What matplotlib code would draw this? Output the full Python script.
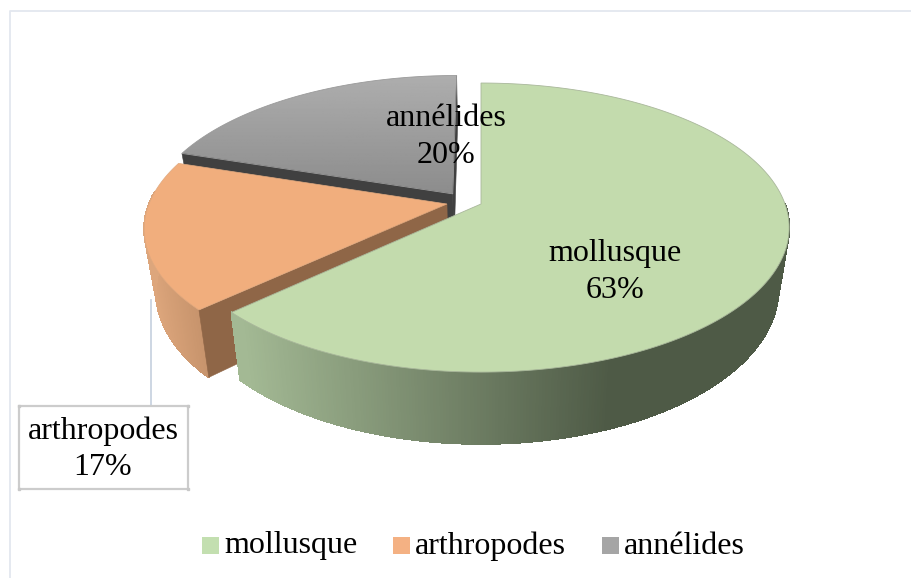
import numpy as np
import matplotlib
matplotlib.use('Agg')
import matplotlib.pyplot as plt
from matplotlib.collections import PolyCollection
from matplotlib.colors import to_rgb
from matplotlib.patches import Polygon, Rectangle

names = ['mollusque', 'arthropodes', 'annélides']
percents = [63, 17, 20]

top_colors = ['#C3DBAD', '#F1AE7D', '#A0A0A0']
wall_colors = ['#8F6647', '#8F6647', '#404040']
# how far each slice is pulled out of the pie (disc units)
offsets = [(0.0, 0.0), (-0.112, 0.0), (-0.094, 0.073)]
scale = [1.0, 0.98, 1.0]

# pie geometry in pixels (perspective view of a disc)
cx, cy = 481, 204
rx, ry = 304, 140.7
k = 0.163
depth = 60
shrink = 0.965

plt.rcParams['font.family'] = ['Liberation Serif', 'DejaVu Serif']

fig = plt.figure(figsize=(9.11, 5.78), dpi=100)
ax = fig.add_axes([0, 0, 1, 1])
ax.set_xlim(0, 911)
ax.set_ylim(578, 0)
ax.axis('off')


def project(u, v, low=False):
    w = 1 + k * np.asarray(v)
    x = rx * np.asarray(u) / w
    y = -ry * np.asarray(v) / w
    if low:
        return cx + x * shrink, cy + y + depth / w
    return cx + x, cy + y


def disc(i, ang):
    a = np.radians(ang)
    return scale[i] * np.sin(a) + offsets[i][0], scale[i] * np.cos(a) + offsets[i][1]


def mix(c1, c2, t):
    c1, c2 = np.array(to_rgb(c1)), np.array(to_rgb(c2))
    return tuple(c1 + (c2 - c1) * t)


def outer_wall(i, a0, a1, shade):
    ang = np.linspace(a0, a1, int(abs(a1 - a0) * 2) + 2)
    u, v = disc(i, ang)
    xt, yt = project(u, v)
    xb, yb = project(u, v, low=True)
    quads = []
    cols = []
    for j in range(len(ang) - 1):
        quads.append([(xt[j], yt[j]), (xt[j + 1], yt[j + 1]), (xb[j + 1], yb[j + 1]), (xb[j], yb[j])])
        cols.append(shade((xt[j] + xt[j + 1]) / 2))
    ax.add_collection(PolyCollection(quads, facecolors=cols, edgecolors=cols, linewidths=0.8, antialiaseds=False))


def radial_wall(i, ang, color):
    u0, v0 = offsets[i]
    u1, v1 = disc(i, ang)
    x0, y0 = project(u0, v0)
    x1, y1 = project(u1, v1)
    x2, y2 = project(u1, v1, low=True)
    x3, y3 = project(u0, v0, low=True)
    ax.add_patch(Polygon([(x0, y0), (x1, y1), (x2, y2), (x3, y3)], fc=color, ec=color, lw=0.4))


def top_points(i):
    ang = np.linspace(starts[i], ends[i], 200)
    u, v = disc(i, ang)
    x, y = project(u, v)
    x0, y0 = project(*offsets[i])
    return np.column_stack([np.r_[x0, x], np.r_[y0, y]])


ends = np.cumsum(percents) * 3.6
starts = ends - np.array(percents) * 3.6

# frame
ax.plot([10, 10, 911], [578, 11, 11], color='#E3E7EF', lw=1.3)

# annélides: back piece, with a vertical grey gradient on top
radial_wall(2, starts[2], wall_colors[2])
radial_wall(2, ends[2], wall_colors[2])
pts = top_points(2)
poly = Polygon(pts, fc='none', ec='#9A9A9A', lw=0.6)
ax.add_patch(poly)
grad = np.linspace(0.68, 0.55, 100).reshape(-1, 1)
im = ax.imshow(grad, cmap='gray', vmin=0, vmax=1, aspect='auto',
               extent=(pts[:, 0].min(), pts[:, 0].max(), pts[:, 1].max(), pts[:, 1].min()))
im.set_clip_path(poly)

# arthropodes
outer_wall(1, starts[1], 275, lambda x: mix('#DDA67C', '#C4916A', np.clip((x - 145) / 60, 0, 1)))
radial_wall(1, starts[1], wall_colors[1])
ax.add_patch(Polygon(top_points(1), fc=top_colors[1], ec='#E0A97F', lw=0.5))

# mollusque
outer_wall(0, 90, ends[0], lambda x: mix('#A3B994', '#4E5A46', np.clip((x - 240) / 370, 0, 1)))
ax.add_patch(Polygon(top_points(0), fc=top_colors[0], ec='#A9B79B', lw=0.6))

# leader line and boxed label for arthropodes
ax.plot([150.5, 150.5], [300, 406], color='#C9D3E0', lw=1.3, zorder=1)
ax.add_patch(Rectangle((19, 406), 169, 83, fc='white', ec='#CCCCCC', lw=1.6))
ax.plot([19, 188, 19, 188], [406, 406, 489, 489], ls='none', marker='s', ms=2, color='#C8C8C8')

ax.text(615, 272, f'{names[0]}\n{percents[0]}%', fontsize=23, ha='center', va='center', linespacing=1.33)
ax.text(103, 449, f'{names[1]}\n{percents[1]}%', fontsize=23, ha='center', va='center', linespacing=1.33)
ax.text(446, 137, f'{names[2]}\n{percents[2]}%', fontsize=23, ha='center', va='center', linespacing=1.33)

# legend
legend_x = [202, 393, 602]
legend_colors = ['#C3DFB0', '#F4B183', '#A5A5A5']
for x, name, col in zip(legend_x, names, legend_colors):
    ax.add_patch(Rectangle((x, 537), 17, 17, fc=col, ec='none'))
    ax.text(x + 22, 546, name, fontsize=23, ha='left', va='center')

ax.set_xlim(0, 911)
ax.set_ylim(578, 0)
fig.savefig('out.png', dpi=100)
